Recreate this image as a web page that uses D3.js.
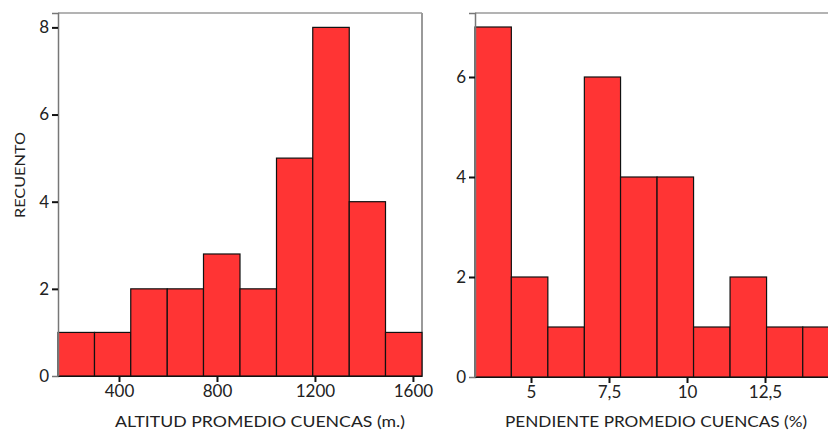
<!DOCTYPE html>
<html>
<head>
<meta charset="utf-8">
<script src="https://cdn.jsdelivr.net/npm/d3@7/dist/d3.min.js"></script>
<style>
  html, body { margin: 0; padding: 0; background: #fff; }
  svg { display: block; }
  text { font-family: Lato, "Open Sans", sans-serif; fill: #222; }
</style>
</head>
<body>
<svg id="chart" width="828" height="430"></svg>
<script>
// ---- Data ----
// Histogram 1: average basin altitude (m.)
const altEdges = [151, 300, 448, 597, 745, 894, 1043, 1191, 1340, 1488, 1637];
const altCounts = [1, 1, 2, 2, 2.8, 2, 5, 8, 4, 1];
const altXTicks = [400, 800, 1200, 1600];
const altYTicks = [0, 2, 4, 6, 8];
const altTitle = "ALTITUD PROMEDIO CUENCAS (m.)";

// Histogram 2: average basin slope (%)
const slopeEdges = [3.205, 4.37, 5.54, 6.71, 7.87, 9.04, 10.21, 11.38, 12.55, 13.71, 14.88];
const slopeCounts = [7, 2, 1, 6, 4, 4, 1, 2, 1, 1];
const slopeXTicks = [5, 7.5, 10, 12.5];
const slopeYTicks = [0, 2, 4, 6];
const slopeTitle = "PENDIENTE PROMEDIO CUENCAS (%)";

const yLabel = "RECUENTO";

const svg = d3.select("#chart");
const fmt = d => String(d).replace(".", ",");

function histogram(cfg) {
  const x = d3.scaleLinear().domain(cfg.xDomain).range([cfg.left, cfg.right]);
  const y = d3.scaleLinear().domain(cfg.yDomain).range([cfg.bottom, cfg.top]);
  const g = svg.append("g");

  const bins = cfg.counts.map((c, i) => ({ x0: cfg.edges[i], x1: cfg.edges[i + 1], c }));

  // frame (gray)
  g.append("line").attr("x1", cfg.left).attr("x2", cfg.frameRight)
    .attr("y1", cfg.top).attr("y2", cfg.top)
    .attr("stroke", "#9a9a9a").attr("stroke-width", 1.5);
  if (cfg.showRight) {
    g.append("line").attr("x1", cfg.right).attr("x2", cfg.right)
      .attr("y1", cfg.top).attr("y2", cfg.bottom)
      .attr("stroke", "#9a9a9a").attr("stroke-width", 2);
  }

  // bars
  g.selectAll("rect.bar").data(bins).join("rect")
    .attr("class", "bar")
    .attr("x", d => x(d.x0))
    .attr("width", d => x(d.x1) - x(d.x0))
    .attr("y", d => y(d.c))
    .attr("height", d => y(0) - y(d.c))
    .attr("fill", "#ff3434")
    .attr("stroke", "#111")
    .attr("stroke-width", 1.2);

  // y axis
  const yAxis = d3.axisLeft(y).tickValues(cfg.yTicks).tickSize(6).tickPadding(3).tickFormat(fmt);
  const ya = g.append("g").attr("transform", `translate(${cfg.left},0)`).call(yAxis);
  ya.select(".domain").attr("stroke", "#777").attr("stroke-width", 1.5);
  ya.selectAll(".tick line").attr("stroke", "#111").attr("stroke-width", 2);
  ya.selectAll(".tick").filter(d => d === 0).select("line").remove();
  ya.selectAll(".tick text").attr("font-size", 17).attr("font-family", "Lato, sans-serif").attr("fill", "#1c1c1c");

  // x axis
  const xAxis = d3.axisBottom(x).tickValues(cfg.xTicks).tickSize(6).tickPadding(3).tickSizeOuter(0).tickFormat(fmt);
  const xa = g.append("g").attr("transform", `translate(0,${cfg.bottom})`).call(xAxis);
  xa.select(".domain").attr("stroke", "#111").attr("stroke-width", 1.2);
  xa.selectAll(".tick line").attr("stroke", "#111").attr("stroke-width", 2);
  xa.selectAll(".tick text").attr("font-size", 17).attr("font-family", "Lato, sans-serif").attr("fill", "#1c1c1c");

  // x title
  g.append("text")
    .attr("x", cfg.titleX).attr("y", 427)
    .attr("text-anchor", "middle")
    .attr("font-size", 16)
    .attr("textLength", cfg.titleLen).attr("lengthAdjust", "spacingAndGlyphs")
    .text(cfg.title);
}

histogram({
  edges: altEdges, counts: altCounts, xTicks: altXTicks, yTicks: altYTicks,
  xDomain: [151, 1637], yDomain: [0, 8.33],
  left: 58, right: 422, top: 13, bottom: 376, frameRight: 422, showRight: true,
  title: altTitle, titleX: 260, titleLen: 290
});

histogram({
  edges: slopeEdges, counts: slopeCounts, xTicks: slopeXTicks, yTicks: slopeYTicks,
  xDomain: [3.205, 14.519], yDomain: [0, 7.28],
  left: 475, right: 828, top: 13, bottom: 377, frameRight: 828, showRight: false,
  title: slopeTitle, titleX: 656, titleLen: 302
});

// y label
svg.append("text")
  .attr("transform", "translate(25,175) rotate(-90)")
  .attr("text-anchor", "middle")
  .attr("font-size", 14)
  .attr("textLength", 86).attr("lengthAdjust", "spacingAndGlyphs")
  .text(yLabel);
</script>
</body>
</html>
